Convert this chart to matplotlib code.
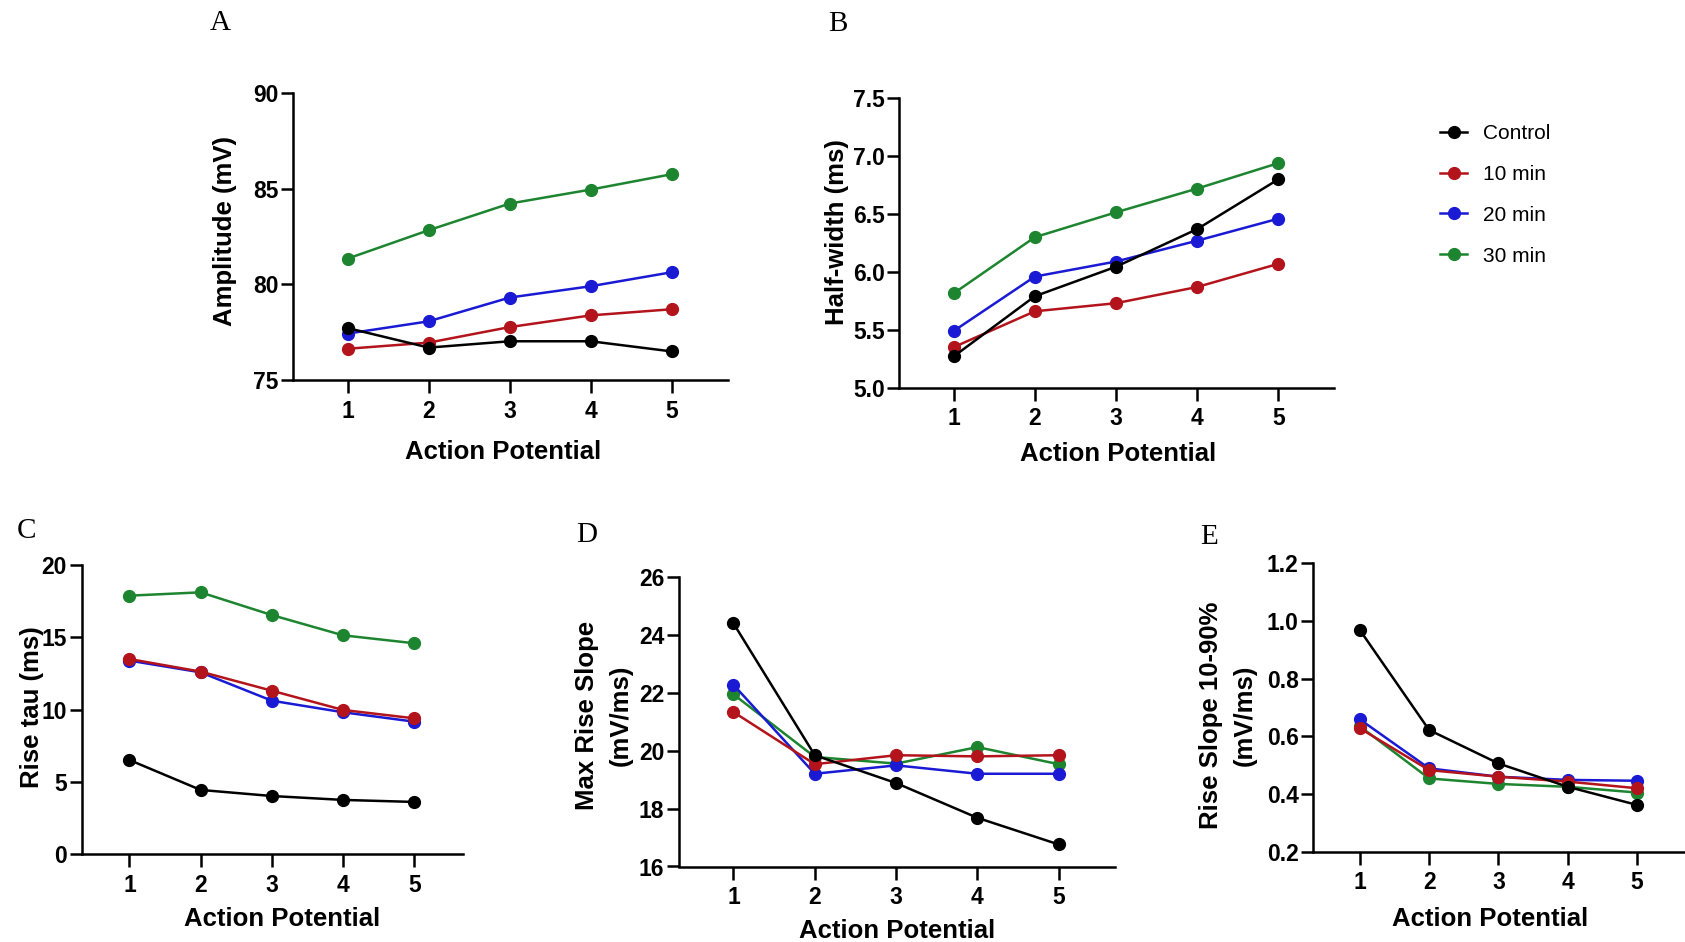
import matplotlib
matplotlib.use("Agg")
import matplotlib.pyplot as plt
from matplotlib.lines import Line2D

# ---- data -------------------------------------------------------------
action_potential = [1, 2, 3, 4, 5]
groups = ["Control", "10 min", "20 min", "30 min"]

amp_control = [77.73, 76.71, 77.04, 77.04, 76.51]
amp_10 = [76.65, 76.97, 77.78, 78.39, 78.71]
amp_20 = [77.44, 78.08, 79.32, 79.91, 80.64]
amp_30 = [81.35, 82.83, 84.22, 84.95, 85.75]

hw_control = [5.27, 5.79, 6.045, 6.37, 6.80]
hw_10 = [5.35, 5.66, 5.73, 5.87, 6.07]
hw_20 = [5.49, 5.96, 6.09, 6.27, 6.46]
hw_30 = [5.815, 6.30, 6.515, 6.72, 6.94]

tau_control = [6.52, 4.45, 4.03, 3.76, 3.62]
tau_10 = [13.50, 12.63, 11.31, 9.98, 9.40]
tau_20 = [13.39, 12.58, 10.62, 9.82, 9.17]
tau_30 = [17.88, 18.11, 16.54, 15.14, 14.59]

mrs_control = [24.39, 19.84, 18.88, 17.68, 16.76]
mrs_10 = [21.33, 19.53, 19.84, 19.80, 19.84]
mrs_20 = [22.27, 19.20, 19.49, 19.20, 19.20]
mrs_30 = [21.94, 19.78, 19.55, 20.12, 19.53]

rs_control = [0.969, 0.622, 0.506, 0.425, 0.362]
rs_10 = [0.628, 0.483, 0.460, 0.443, 0.420]
rs_20 = [0.659, 0.489, 0.460, 0.449, 0.446]
rs_30 = [0.635, 0.454, 0.435, 0.425, 0.405]

# ---- styling ----------------------------------------------------------
W, H = 1685, 942
DPI = 100
colors = {"Control": "#000000", "10 min": "#b3141c",
          "20 min": "#1a1ad4", "30 min": "#1d8530"}
zorders = {"Control": 6, "10 min": 5, "20 min": 4, "30 min": 3}

SANS = ["Liberation Sans", "DejaVu Sans"]
SERIF = ["Liberation Serif", "DejaVu Serif"]
plt.rcParams["font.family"] = SANS

fig = plt.figure(figsize=(W / DPI, H / DPI), dpi=DPI)
fig.patch.set_facecolor("white")


def fx(x):
    return x / W


def fy(y):
    return 1 - y / H


def make_axes(left, right, top, bottom):
    return fig.add_axes([fx(left), fy(bottom), fx(right) - fx(left),
                         fy(top) - fy(bottom)])


panels = [
    # (series, ylim, yticks, ytick fmt, ylabel, axes box px, ylabel pos, xlabel pos, letter, letter pos)
    ([amp_control, amp_10, amp_20, amp_30], (75, 90), [75, 80, 85, 90], "{:.0f}",
     "Amplitude (mV)", (293.3, 727.7, 92.7, 380.4), (224.5, 231), (502.7, 452),
     "A", (220, 23)),
    ([hw_control, hw_10, hw_20, hw_30], (5.0, 7.5), [5.0, 5.5, 6.0, 6.5, 7.0, 7.5], "{:.1f}",
     "Half-width (ms)", (899.3, 1334.3, 98.3, 387.7), (836.5, 232.5), (1117.9, 454),
     "B", (838, 24)),
    ([tau_control, tau_10, tau_20, tau_30], (0, 20), [0, 5, 10, 15, 20], "{:.0f}",
     "Rise tau (ms)", (81.7, 463.3, 565, 854.3), (31.5, 707.5), (281.7, 919),
     "C", (26, 531)),
    ([mrs_control, mrs_10, mrs_20, mrs_30], (16, 26), [16, 18, 20, 22, 24, 26], "{:.0f}",
     "Max Rise Slope\n(mV/ms)", (679, 1114.8, 576.7, 866.5), (604, 715.8), (897.5, 930.5),
     "D", (587, 535)),
    ([rs_control, rs_10, rs_20, rs_30], (0.2, 1.2), [0.2, 0.4, 0.6, 0.8, 1.0, 1.2], "{:.1f}",
     "Rise Slope 10-90%\n(mV/ms)", (1313.3, 1685, 563.3, 851.7), (1228, 715), (1490, 919),
     "E", (1209, 537)),
]

LABEL_FS = 18.5
TICK_FS = 16.5
LW = 1.8
MS = 8.5

for series, ylim, yticks, fmt, ylabel, box, ylpos, xlpos, letter, letpos in panels:
    ax = make_axes(*box)
    for name, vals in zip(groups, series):
        ax.plot(action_potential, vals, color=colors[name], lw=LW,
                marker="o", ms=MS, zorder=zorders[name], clip_on=False,
                label=name)
    ax.set_xlim(0.33, 5.69)
    ax.set_ylim(*ylim)
    ax.set_xticks(action_potential)
    ax.set_yticks(yticks)
    ax.set_yticklabels([fmt.format(v) for v in yticks])
    for s in ("top", "right"):
        ax.spines[s].set_visible(False)
    for s in ("left", "bottom"):
        ax.spines[s].set_linewidth(1.8)
    ax.tick_params(axis="both", width=1.8, length=9, labelsize=TICK_FS)
    ax.tick_params(axis="y", pad=1.5)
    ax.tick_params(axis="x", pad=5)
    for lab in ax.get_xticklabels() + ax.get_yticklabels():
        lab.set_fontweight("bold")
    ax.set_facecolor("none")

    ax.set_ylabel(ylabel, fontsize=LABEL_FS, fontweight="bold",
                  va="center", ha="center", linespacing=1.5)
    ax.yaxis.set_label_coords(fx(ylpos[0]), fy(ylpos[1]), transform=fig.transFigure)
    ax.set_xlabel("Action Potential", fontsize=LABEL_FS, fontweight="bold",
                  va="center", ha="center")
    ax.xaxis.set_label_coords(fx(xlpos[0]), fy(xlpos[1]), transform=fig.transFigure)

    fig.text(fx(letpos[0]), fy(letpos[1]), letter, family=SERIF, fontsize=21,
             ha="center", va="center")

# ---- legend -----------------------------------------------------------
handles = [Line2D([], [], color=colors[g], lw=LW, marker="o", ms=MS) for g in groups]
fig.legend(handles, groups, loc="upper left",
           bbox_to_anchor=(fx(1440), fy(124)), frameon=False,
           fontsize=15, handlelength=1.3, handletextpad=0.75,
           labelspacing=1.05, borderpad=0, borderaxespad=0)

fig.savefig("out.png", dpi=DPI, facecolor="white")
